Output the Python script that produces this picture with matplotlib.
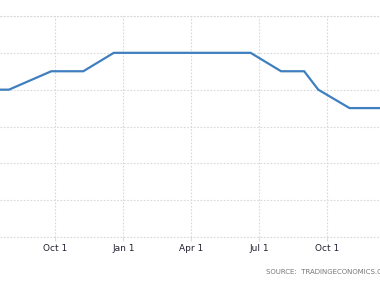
import numpy as np
import pandas as pd
import matplotlib
matplotlib.use('Agg')
import matplotlib.pyplot as plt

# rate path (dates, values in %)
dates = ['2023-07-01', '2023-07-31', '2023-09-26', '2023-11-08', '2023-12-19',
         '2024-06-20', '2024-07-31', '2024-08-31', '2024-09-19', '2024-10-31',
         '2024-12-31']
rates = [5.00, 5.00, 5.25, 5.25, 5.50, 5.50, 5.25, 5.25, 5.00, 4.75, 4.75]
tick_dates = ['2023-10-01', '2024-01-01', '2024-04-01', '2024-07-01', '2024-10-01']
tick_labels = ['Oct 1', 'Jan 1', 'Apr 1', 'Jul 1', 'Oct 1']
y_grid = [3.0, 3.5, 4.0, 4.5, 5.0, 5.5, 6.0]

W, H = 380, 285
fig = plt.figure(figsize=(W / 100, H / 100), dpi=100)
ax = fig.add_axes([0, 1 - 237 / H, 1, (237 - 16) / H])

x = pd.to_datetime(dates)
ax.plot(x, rates, color='#3f7fbf', lw=1.6, solid_joinstyle='miter', zorder=3)

ax.set_xlim(pd.Timestamp('2023-07-19'), pd.Timestamp('2024-12-11'))
ax.set_ylim(3.0, 6.0)
ax.set_xticks(pd.to_datetime(tick_dates))
ax.set_xticklabels(tick_labels)
ax.set_yticks(y_grid)
ax.tick_params(axis='y', left=False, labelleft=False)
ax.tick_params(axis='x', length=3, color='#dddddd', labelsize=6.5,
               labelcolor='#222233', pad=2)
ax.grid(True, color='#d9d9d9', lw=0.8, ls=(0, (1.5, 1.5)))
for s in ax.spines.values():
    s.set_visible(False)
ax.axhline(3.0, color='#d9d9d9', lw=0.8, ls=(0, (1.5, 1.5)), clip_on=False)
ax.axhline(6.0, color='#d9d9d9', lw=0.8, ls=(0, (1.5, 1.5)), clip_on=False)

fig.text(266 / W, 1 - 272 / H, 'SOURCE:  TRADINGECONOMICS.COM', fontsize=5,
         color='#777777', ha='left', va='center')

fig.savefig('out.png', dpi=100)
